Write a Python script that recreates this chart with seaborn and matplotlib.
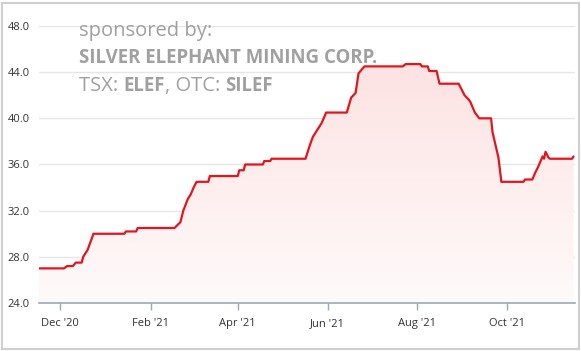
import numpy as np
import pandas as pd
import matplotlib
matplotlib.use("Agg")
import matplotlib.pyplot as plt
import matplotlib.dates as mdates
from matplotlib.patches import Rectangle
import seaborn as sns

# price history (CAD)
dates = ["2020-11-17", "2020-12-04", "2020-12-06", "2020-12-10", "2020-12-12", "2020-12-16",
         "2020-12-17", "2020-12-20", "2020-12-24", "2021-01-14", "2021-01-15", "2021-01-22",
         "2021-01-23", "2021-02-17", "2021-02-21", "2021-02-23", "2021-02-26", "2021-02-28",
         "2021-03-02", "2021-03-04", "2021-03-12", "2021-03-13", "2021-04-01", "2021-04-02",
         "2021-04-05", "2021-04-06", "2021-04-18", "2021-04-19", "2021-04-23", "2021-04-24",
         "2021-05-17", "2021-05-20", "2021-05-22", "2021-05-25", "2021-05-28", "2021-05-31",
         "2021-06-14", "2021-06-17", "2021-06-20", "2021-06-22", "2021-06-26", "2021-07-22",
         "2021-07-24", "2021-08-03", "2021-08-04", "2021-08-08", "2021-08-09", "2021-08-14",
         "2021-08-16", "2021-08-29", "2021-09-02", "2021-09-05", "2021-09-06", "2021-09-09",
         "2021-09-12", "2021-09-20", "2021-09-21", "2021-09-25", "2021-09-27", "2021-10-12",
         "2021-10-13", "2021-10-18", "2021-10-20", "2021-10-22", "2021-10-25", "2021-10-26",
         "2021-10-27", "2021-10-29", "2021-10-30", "2021-11-14", "2021-11-15"]
prices = [27.0, 27.0, 27.2, 27.2, 27.5, 27.5,
          28.0, 28.6, 30.0, 30.0, 30.2, 30.2,
          30.5, 30.5, 31.0, 32.0, 33.0, 33.4,
          34.0, 34.5, 34.5, 35.0, 35.0, 35.5,
          35.5, 36.0, 36.0, 36.3, 36.3, 36.5,
          36.5, 37.7, 38.4, 39.0, 39.6, 40.5,
          40.5, 41.8, 42.2, 43.9, 44.5, 44.5,
          44.7, 44.7, 44.5, 44.5, 44.1, 44.1,
          43.0, 43.0, 42.0, 41.6, 41.4, 40.5,
          40.0, 40.0, 38.8, 36.6, 34.5, 34.5,
          34.7, 34.7, 35.3, 35.8, 36.7, 36.5,
          37.1, 36.6, 36.5, 36.5, 36.7]
y_ticks = [24, 28, 32, 36, 40, 44, 48]
x_ticks = ["2020-12-01", "2021-02-01", "2021-04-01", "2021-06-01", "2021-08-01", "2021-10-01"]

df = pd.DataFrame({"date": pd.to_datetime(dates), "price": prices})

sns.set_style("white")
plt.rcParams["font.family"] = ["Open Sans", "DejaVu Sans"]

fig = plt.figure(figsize=(5.81, 3.51), dpi=100)
ax = fig.add_axes([39 / 581, 48 / 351, 536 / 581, 277 / 351])

# gradient fill under the line
xn = mdates.date2num(df["date"])
grad = np.linspace(0, 1, 256).reshape(-1, 1)
cmap = matplotlib.colors.LinearSegmentedColormap.from_list("pink", ["#fffafa", "#fde2e2"])
im = ax.imshow(grad, cmap=cmap, aspect="auto", origin="lower",
               extent=[xn[0], xn[-1], 24, 45], zorder=1)
poly = ax.fill_between(df["date"], df["price"], 24, color="none")
im.set_clip_path(poly.get_paths()[0], transform=ax.transData)

sns.lineplot(data=df, x="date", y="price", ax=ax, color="#e3141b", linewidth=1.6, zorder=3)

ax.set_xlim(pd.Timestamp("2020-11-17"), pd.Timestamp("2021-11-16"))
ax.set_ylim(24, 48)
ax.set_yticks(y_ticks)
ax.set_yticklabels([f"{v:.1f}" for v in y_ticks])
ax.set_xticks(pd.to_datetime(x_ticks))
ax.xaxis.set_major_formatter(mdates.DateFormatter("%b '%y"))
ax.set_xlabel("")
ax.set_ylabel("")
ax.grid(axis="y", color="#e6e6e6", linewidth=1)
ax.set_axisbelow(True)
for s in ["top", "right", "left"]:
    ax.spines[s].set_visible(False)
ax.spines["bottom"].set_color("#9aa9b4")
ax.spines["bottom"].set_linewidth(1.2)
ax.tick_params(axis="y", length=0, pad=6.5, labelsize=8, labelcolor="#333333")
ax.tick_params(axis="x", length=5, width=1, color="#9aa9b4", pad=6, labelsize=8,
               labelcolor="#333333", bottom=True)

# sponsor watermark
gray = "#a0a0a0"
fs_n = 14.5
fs_b = 13.4
fig.text(79 / 581, 1 - 31 / 351, "sponsored by:", fontsize=fs_n, color=gray, va="center")
fig.text(79 / 581, 1 - 58 / 351, "SILVER ELEPHANT MINING CORP.", fontsize=fs_b, color=gray,
         va="center", fontweight="bold")
t = fig.text(79 / 581, 1 - 91 / 351, "TSX: ", fontsize=fs_n, color=gray, va="baseline")
parts = [("ELEF", "bold"), (", OTC: ", "normal"), ("SILEF", "bold")]
for txt, wt in parts:
    t = ax.annotate(txt, xy=(1, 0), xycoords=t, va="bottom", ha="left",
                    fontsize=fs_b if wt == "bold" else fs_n, color=gray,
                    fontweight=wt, annotation_clip=False)

fig.patches.append(Rectangle((1.5 / 581, 2.5 / 351), 577 / 581, 346 / 351,
                             transform=fig.transFigure, fill=False,
                             edgecolor="#cfcfcf", linewidth=1.5))

fig.savefig("out.png", dpi=100)
